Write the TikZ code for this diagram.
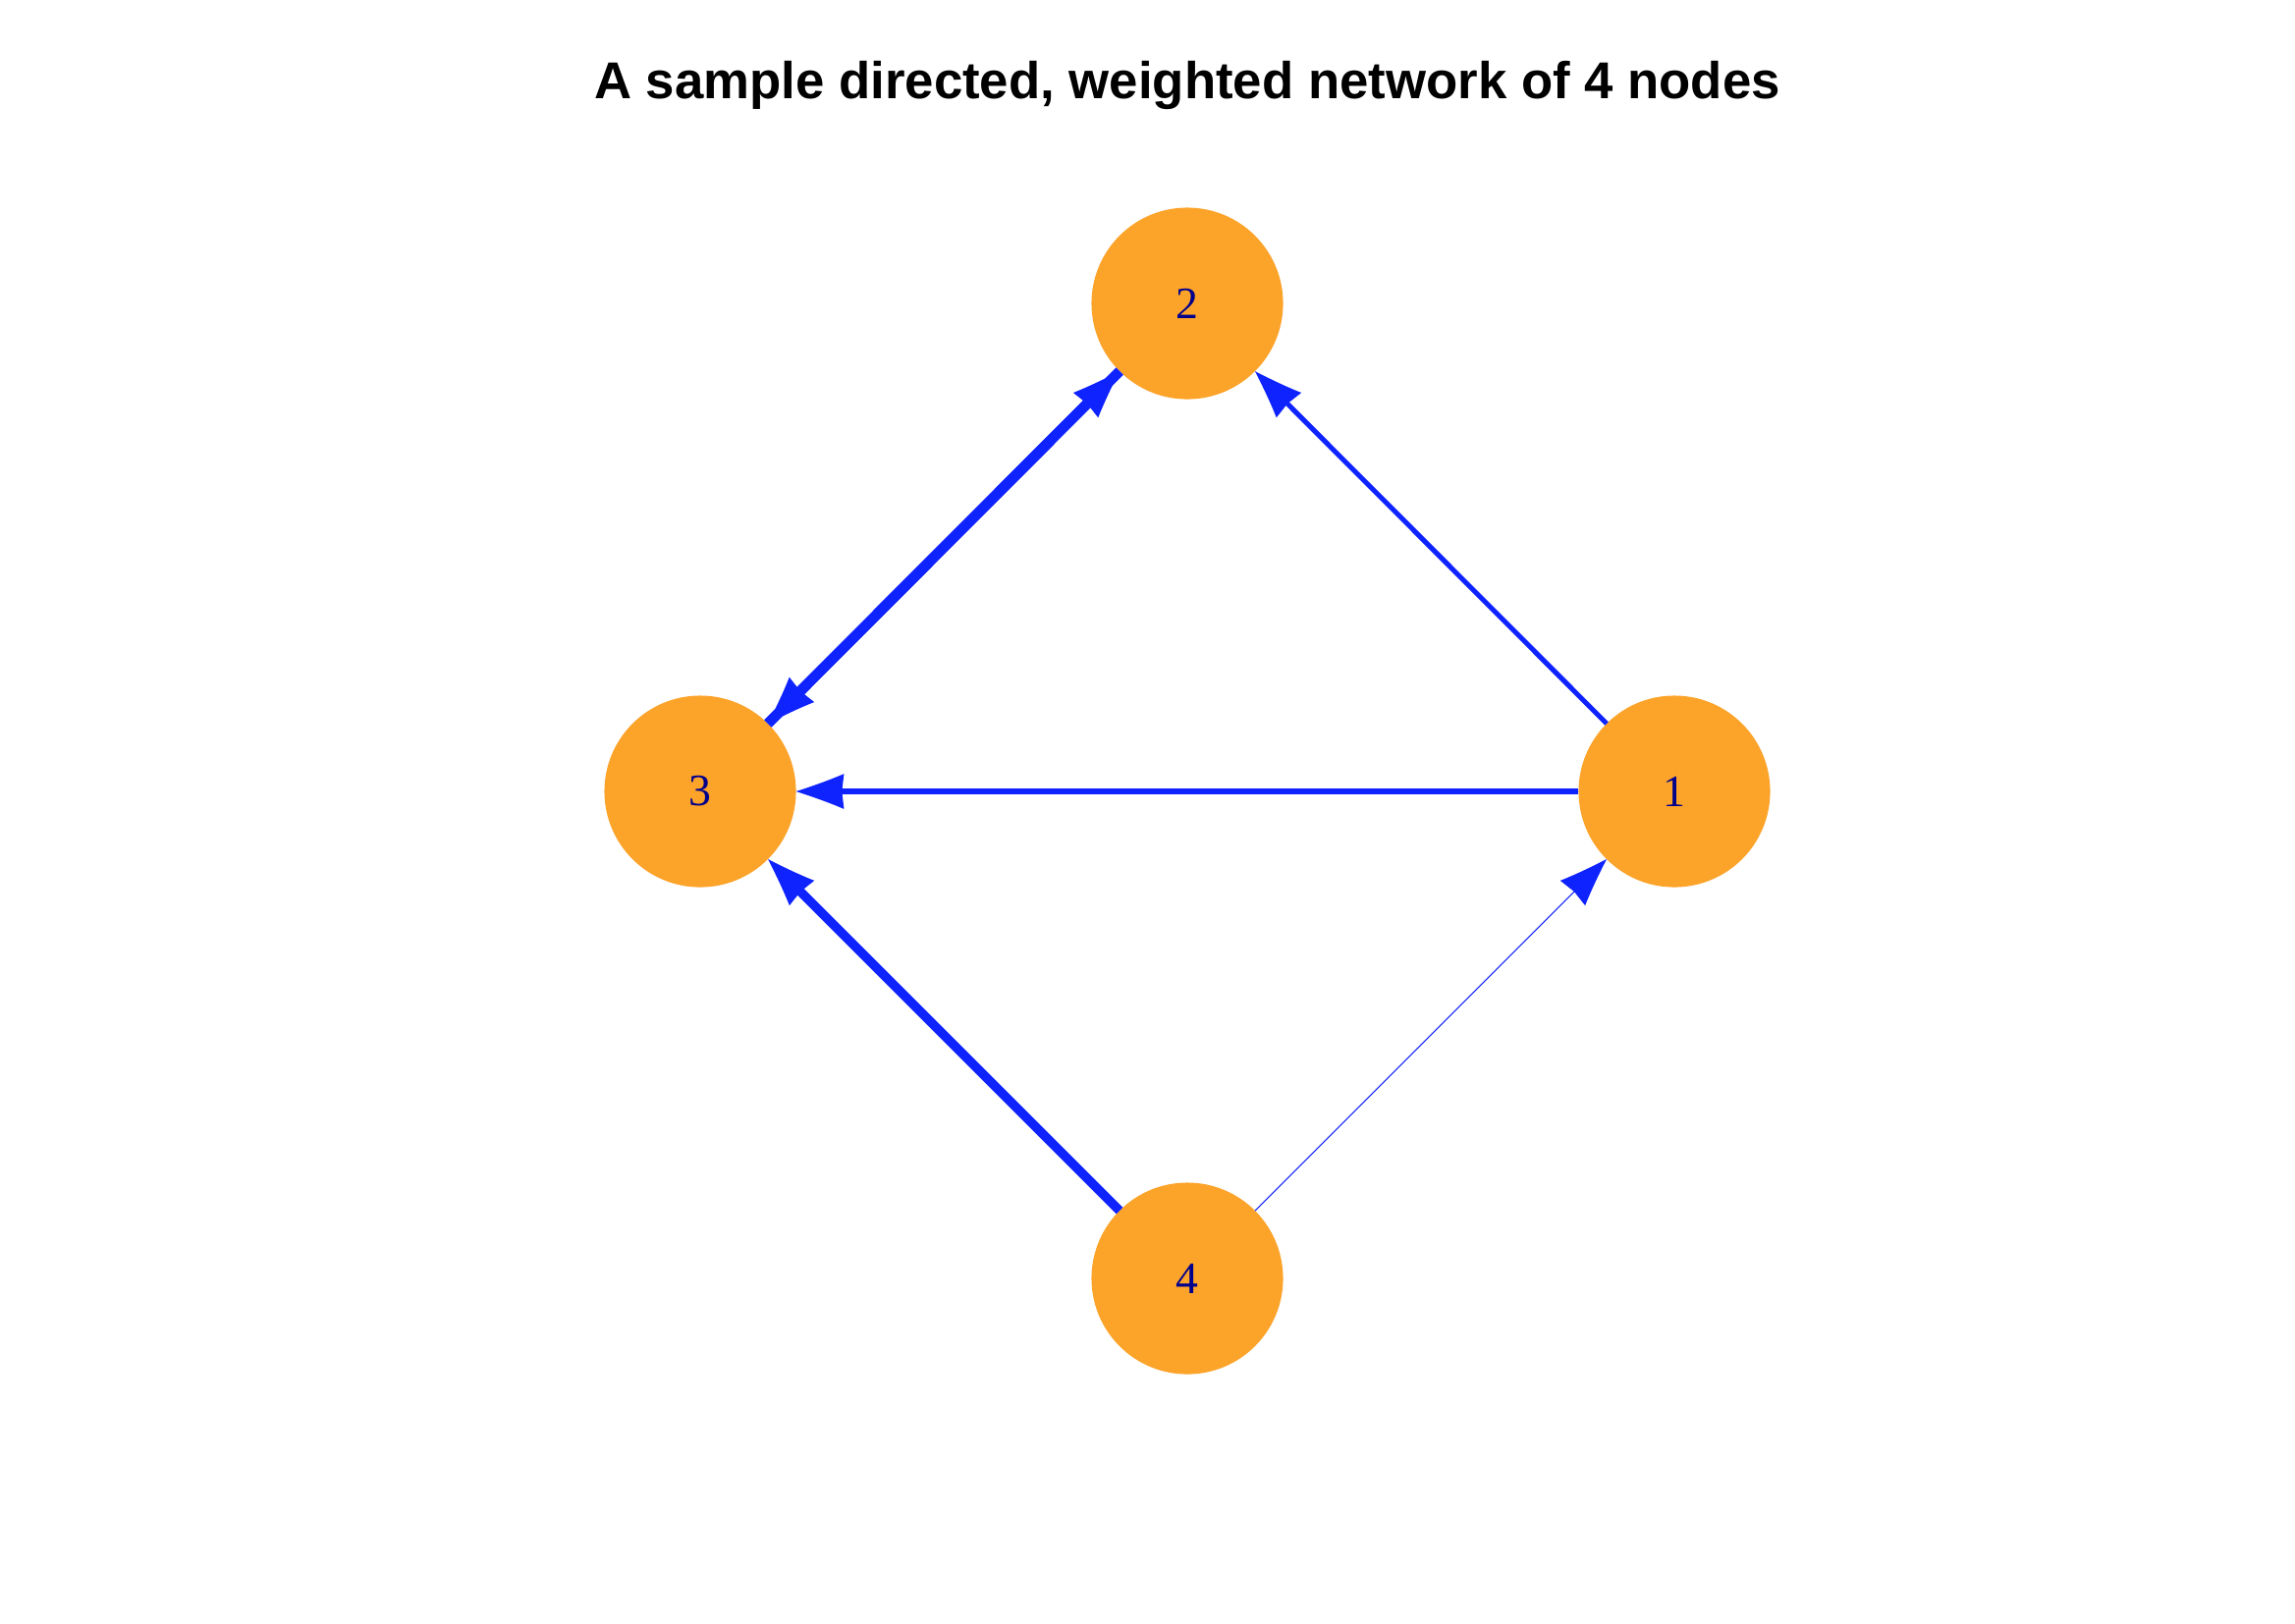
\documentclass[tikz,border=0pt]{standalone}
\usepackage{fontspec}
\setmainfont{Liberation Serif}
\newfontfamily\titlefont{Liberation Sans}
\usetikzlibrary{arrows.meta}
\definecolor{nodeorange}{RGB}{252,163,42}
\definecolor{edgeblue}{RGB}{15,35,255}
\definecolor{labelblue}{RGB}{0,0,139}
\pgfdeclarearrow{
  name = Flare,
  setup code = {
    \pgfarrowssettipend{0pt}
    \pgfarrowssetlineend{-11pt}
    \pgfarrowsupperhullpoint{0pt}{0pt}
    \pgfarrowsupperhullpoint{-13.9pt}{5.1pt}
    \pgfarrowssetbackend{-13.9pt}
  },
  drawing code = {
    \pgfpathmoveto{\pgfpoint{0pt}{0pt}}
    \pgfpathcurveto{\pgfpoint{-5pt}{1.6pt}}{\pgfpoint{-10pt}{3.4pt}}{\pgfpoint{-13.9pt}{5.1pt}}
    \pgfpathlineto{\pgfpoint{-13.3pt}{0pt}}
    \pgfpathlineto{\pgfpoint{-13.9pt}{-5.1pt}}
    \pgfpathcurveto{\pgfpoint{-10pt}{-3.4pt}}{\pgfpoint{-5pt}{-1.6pt}}{\pgfpoint{0pt}{0pt}}
    \pgfpathclose
    \pgfusepathqfill
  }
}
\begin{document}
\begin{tikzpicture}[x=0.01cm,y=-0.01cm,
  vertex/.style={circle,fill=nodeorange,minimum size=1.95cm,inner sep=0pt,outer sep=0pt,
    text=labelblue,font=\fontsize{13}{15}\selectfont},
  edge/.style={draw=edgeblue,line cap=butt,-{Flare[color=edgeblue]}},
  titletext/.style={font=\titlefont\bfseries\fontsize{15}{18}\selectfont,anchor=base}]
\useasboundingbox[fill=white] (0,0) rectangle (2337,1653);
\node[titletext] (title) at (1209,100) {A sample directed, weighted network of 4 nodes};
\node[vertex] (n1) at (1705,806) {1};
\node[vertex] (n2) at (1209,309) {2};
\node[vertex] (n3) at (713,806) {3};
\node[vertex] (n4) at (1209,1302) {4};
\draw[edge,line width=0.105cm] (n2) -- (n3);
\draw[edge,line width=0.105cm] (n3) -- (n2);
\draw[edge,line width=0.05cm] (n1) -- (n2);
\draw[edge,line width=0.058cm] (n1) -- (n3);
\draw[edge,line width=0.093cm] (n4) -- (n3);
\draw[edge,line width=0.01cm] (n4) -- (n1);
\end{tikzpicture}
\end{document}
